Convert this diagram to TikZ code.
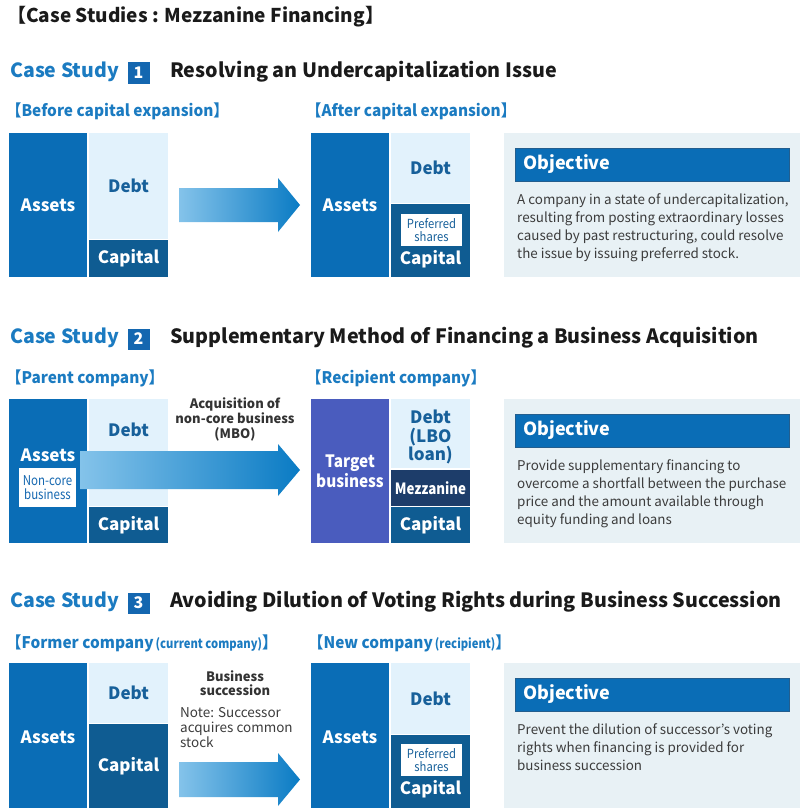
\documentclass[tikz,border=0pt]{standalone}
\usepackage{fontspec}
\usepackage{graphicx}
\setmainfont{Noto Sans CJK JP}
\definecolor{cBlue}{HTML}{0A6DB6}
\definecolor{cLight}{HTML}{E2F2FC}
\definecolor{cDark}{HTML}{0F5C92}
\definecolor{cDebtTxt}{HTML}{17609A}
\definecolor{cHead}{HTML}{1B7BC1}
\definecolor{cNum}{HTML}{1467B0}
\definecolor{cPanel}{HTML}{E8F1F5}
\definecolor{cPurple}{HTML}{4A5CBE}
\definecolor{cNavy}{HTML}{1D3D6A}
\definecolor{cText}{HTML}{3C3C3C}
\definecolor{cTitle}{HTML}{1A1A1A}
\definecolor{cLbl}{HTML}{333333}
\definecolor{cBarEdge}{HTML}{235E8E}
\definecolor{cArrowL}{HTML}{84C3EA}
\definecolor{cArrowR}{HTML}{0A7BC4}
\newcommand{\cnd}[2][0.88]{\scalebox{#1}[1]{#2}}
\begin{document}
\begin{tikzpicture}[x=1pt,y=-1pt,
  blk/.style={inner sep=0pt, outer sep=0pt, anchor=north west},
  assets/.style={blk, fill=cBlue},
  debt/.style={blk, fill=cLight},
  capital/.style={blk, fill=cDark},
  wlbl/.style={inner sep=0pt, text=white, font=\bfseries\fontsize{17}{20}\selectfont},
  dlbl/.style={inner sep=0pt, text=cDebtTxt, font=\bfseries\fontsize{17}{20}\selectfont},
  wbox/.style={blk, fill=white, text=cDebtTxt, align=center, font=\fontsize{12.5}{12.5}\selectfont},
  cs/.style={inner sep=0pt, anchor=west, text=cHead, font=\bfseries\fontsize{19.5}{22}\selectfont},
  cstitle/.style={inner sep=0pt, anchor=west, text=cTitle, font=\bfseries\fontsize{19.7}{22}\selectfont},
  num/.style={fill=cNum, text=white, minimum width=22, minimum height=21, inner sep=0pt, font=\bfseries\fontsize{16}{18}\selectfont},
  sub/.style={inner sep=0pt, anchor=west, text=cHead, font=\bfseries\fontsize{16}{19}\selectfont},
  panel/.style={blk, fill=cPanel, minimum width=296},
  objbar/.style={blk, fill=cBlue, draw=cBarEdge, line width=0.8pt, minimum width=274, minimum height=33},
  objtxt/.style={inner sep=0pt, anchor=west, text=white, font=\bfseries\fontsize{18}{22}\selectfont},
  body/.style={inner sep=0pt, anchor=north west, align=left, text=cText, font=\fontsize{13.4}{18}\selectfont},
  alabel/.style={inner sep=0pt, align=center, text=cLbl, font=\bfseries\fontsize{13}{15}\selectfont},
  fat/.style={left color=cArrowL, right color=cArrowR}
]
\useasboundingbox (0,0) rectangle (800,808);

% ---------- Title ----------
\node[inner sep=0pt, anchor=west, text=cTitle, font=\bfseries\fontsize{19}{22}\selectfont] (title) at (7,17) {【Case Studies : Mezzanine Financing】};

% ---------- Case Study 1 ----------
\node[cs] (cs1) at (10,72) {Case Study};
\node[num] (n1) at (138.5,73) {1};
\node[cstitle] (t1) at (170,72) {Resolving an Undercapitalization Issue};
\node[sub] (s1a) at (6,111) {\cnd[0.96]{【Before capital expansion】}};
\node[sub] (s1b) at (306,111) {\cnd[0.96]{【After capital expansion】}};

\node[assets, minimum width=78, minimum height=144] (a1) at (9,133) {};
\node[wlbl] (a1t) at (a1.center) {Assets};
\node[debt, minimum width=79, minimum height=106] (d1) at (89,133) {};
\node[dlbl] (d1t) at (d1.center) {Debt};
\node[capital, minimum width=79, minimum height=37] (c1) at (89,240) {};
\node[wlbl] (c1t) at (c1.center) {Capital};

\shade[fat] (179,188) -- (278,188) -- (278,178) -- (300,205) -- (278,232) -- (278,222) -- (179,222) -- cycle;

\node[assets, minimum width=78, minimum height=144] (a2) at (311,133) {};
\node[wlbl] (a2t) at (a2.center) {Assets};
\node[debt, minimum width=79, minimum height=70] (d2) at (391,133) {};
\node[dlbl] (d2t) at (d2.center) {Debt};
\node[capital, minimum width=79, minimum height=73] (c2) at (391,204) {};
\node[wbox, minimum width=61, minimum height=32] (p2) at (401,214) {\cnd[0.9]{Preferred}\\\cnd[0.9]{shares}};
\node[wlbl] (c2t) at (430.5,259) {Capital};

\node[panel, minimum height=144] (o1) at (504,133) {};
\node[objbar] (ob1) at (515,148) {};
\node[objtxt] (ob1t) at (523,164.5) {Objective};
\node[body] (b1) at (517,193) {A company in a state of undercapitalization,\\resulting from posting extraordinary losses\\caused by past restructuring, could resolve\\the issue by issuing preferred stock.};

% ---------- Case Study 2 ----------
\node[cs] (cs2) at (10,338) {Case Study};
\node[num] (n2) at (138.5,339) {2};
\node[cstitle] (t2) at (170,338) {Supplementary Method of Financing a Business Acquisition};
\node[sub] (s2a) at (6,378) {\cnd[0.96]{【Parent company】}};
\node[sub] (s2b) at (306,378) {\cnd[0.96]{【Recipient company】}};

\node[assets, minimum width=78, minimum height=144] (a3) at (9,399) {};
\node[wlbl] (a3t) at (48,455) {Assets};
\node[wbox, minimum width=57, minimum height=39, text=cNum, font=\fontsize{13.5}{14}\selectfont] (nc) at (19,468) {\cnd[0.85]{Non-core}\\\cnd[0.85]{business}};
\node[debt, minimum width=79, minimum height=107] (d3) at (89,399) {};
\node[dlbl] (d3t) at (128.5,430) {Debt};
\node[capital, minimum width=79, minimum height=36] (c3) at (89,507) {};
\node[wlbl] (c3t) at (c3.center) {Capital};

\shade[fat] (80,451) -- (278,451) -- (278,444) -- (300,470) -- (278,496) -- (278,489) -- (80,489) -- cycle;
\node[alabel] (al2) at (235,419) {Acquisition of\\non-core business\\(MBO)};

\node[blk, fill=cPurple, minimum width=78, minimum height=144] (tb) at (311,399) {};
\node[wlbl, align=center, font=\bfseries\fontsize{17}{20}\selectfont] (tbt) at (tb.center) {\cnd[0.9]{Target}\\\cnd[0.9]{business}};
\node[debt, minimum width=79, minimum height=69] (d4) at (391,399) {};
\node[dlbl, align=center, font=\bfseries\fontsize{17}{18.5}\selectfont] (d4t) at (430.5,437) {Debt\\(LBO\\loan)};
\node[blk, fill=cNavy, minimum width=79, minimum height=36] (mz) at (391,470) {};
\node[wlbl, font=\bfseries\fontsize{15.5}{18}\selectfont] (mzt) at (mz.center) {\cnd[0.86]{Mezzanine}};
\node[capital, minimum width=79, minimum height=36] (c4) at (391,507) {};
\node[wlbl] (c4t) at (c4.center) {Capital};

\node[panel, minimum height=144] (o2) at (504,399) {};
\node[objbar] (ob2) at (515,414) {};
\node[objtxt] (ob2t) at (523,430.5) {Objective};
\node[body] (b2) at (517,459) {Provide supplementary financing to\\overcome a shortfall between the purchase\\price and the amount available through\\equity funding and loans};

% ---------- Case Study 3 ----------
\node[cs] (cs3) at (10,602) {Case Study};
\node[num] (n3) at (138.5,603) {3};
\node[cstitle] (t3) at (170,602) {Avoiding Dilution of Voting Rights during Business Succession};
\node[sub] (s3a) at (6,643) {\cnd[0.96]{【Former company{\fontsize{13}{14}\selectfont\,\cnd[0.9]{(current company)}}】}};
\node[sub] (s3b) at (308,643) {\cnd[0.96]{【New company{\fontsize{13}{14}\selectfont\,\cnd[0.9]{(recipient)}}】}};

\node[assets, minimum width=78, minimum height=146] (a5) at (9,663) {};
\node[wlbl] (a5t) at (48,737) {Assets};
\node[debt, minimum width=79, minimum height=60] (d5) at (89,663) {};
\node[dlbl] (d5t) at (d5.center) {Debt};
\node[capital, minimum width=79, minimum height=85] (c5) at (89,724) {};
\node[wlbl] (c5t) at (128.5,766) {Capital};

\node[alabel, font=\bfseries\fontsize{13}{14}\selectfont] (al3) at (235,683) {Business\\succession};
\node[inner sep=0pt, anchor=north west, align=left, text=cText, font=\fontsize{13.5}{15}\selectfont] (note3) at (180,707) {Note: Successor\\acquires common\\stock};
\shade[fat] (179,762) -- (278,762) -- (278,753) -- (300,779.5) -- (278,806) -- (278,797) -- (179,797) -- cycle;

\node[assets, minimum width=78, minimum height=146] (a6) at (311,663) {};
\node[wlbl] (a6t) at (350,737) {Assets};
\node[debt, minimum width=79, minimum height=71] (d6) at (391,663) {};
\node[dlbl] (d6t) at (d6.center) {Debt};
\node[capital, minimum width=79, minimum height=74] (c6) at (391,735) {};
\node[wbox, minimum width=61, minimum height=32] (p6) at (401,744) {\cnd[0.9]{Preferred}\\\cnd[0.9]{shares}};
\node[wlbl] (c6t) at (430.5,789) {Capital};

\node[panel, minimum height=146] (o3) at (504,663) {};
\node[objbar] (ob3) at (515,678) {};
\node[objtxt] (ob3t) at (523,694.5) {Objective};
\node[body] (b3) at (517,723) {Prevent the dilution of successor’s voting\\rights when financing is provided for\\business succession};
\end{tikzpicture}
\end{document}
